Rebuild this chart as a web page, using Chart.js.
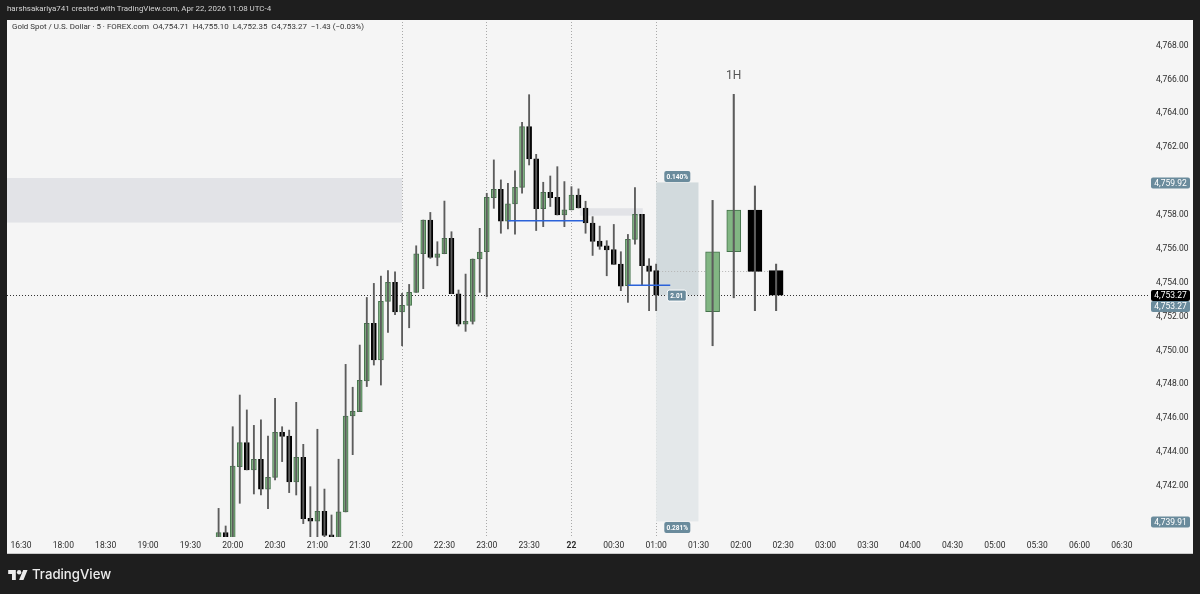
<!DOCTYPE html>
<html>
<head>
<meta charset="utf-8">
<title>XAUUSD 5m</title>
<script src="https://cdn.jsdelivr.net/npm/chart.js@4/dist/chart.umd.min.js"></script>
<style>
    html, body { margin: 0; padding: 0; width: 1200px; height: 594px; overflow: hidden; background: #1e1e1e; }
    #panel { position: absolute; left: 7px; top: 20px; width: 1186px; height: 533px; background: #f5f5f5; box-shadow: 0 1px 0 #c9c9c9; }
    #chartBox { position: absolute; left: 0; top: 0; width: 1200px; height: 594px; }
    .label { position: absolute; white-space: nowrap; font-family: Roboto, sans-serif; }
    #header { left: 7px; top: 3px; font-size: 7.95px; line-height: 12px; color: #d4d4d4; }
    #legend { left: 12px; top: 21px; font-size: 7.95px; line-height: 12px; color: #333; }
    #brand { left: 32px; top: 565px; font-family: Inter, sans-serif; font-size: 13.2px; line-height: 18px; font-weight: 500; color: #ececec; }
    #logo { position: absolute; left: 8px; top: 569px; }
</style>
</head>
<body>
<div id="panel"></div>
<div id="chartBox"><canvas id="goldChart" width="1200" height="594"></canvas></div>
<div class="label" id="header">harshsakariya741 created with TradingView.com, Apr 22, 2026 11:08 UTC-4</div>
<div class="label" id="legend">Gold Spot / U.S. Dollar · 5 · FOREX.com &nbsp;O4,754.71 &nbsp;H4,755.10 &nbsp;L4,752.35 &nbsp;C4,753.27 &nbsp;−1.43 (−0.03%)</div>
<svg id="logo" width="20" height="12" viewBox="0 2 36 22"><path fill="#ececec" d="M14 22H7V11H0V4h14v18zM28 22h-8l7.5-18h8L28 22z"/><circle fill="#ececec" cx="20" cy="8" r="4"/></svg>
<div class="label" id="brand">TradingView</div>

<script>
// 5 minute candles, first one sits on slot 28 of the time axis
const firstSlot = 28;
const opens = [4738.80, 4739.25, 4738.70, 4743.14, 4744.56, 4742.95, 4743.58, 4741.82, 4742.51, 4745.17, 4744.95, 4742.24, 4743.69, 4740.09, 4739.92, 4740.51, 4739.09, 4738.70, 4740.47, 4746.13, 4746.39, 4748.20, 4751.60, 4749.44, 4752.90, 4754.02, 4752.27, 4752.66, 4753.43, 4755.71, 4757.70, 4755.50, 4755.71, 4756.62, 4753.35, 4751.56, 4751.72, 4755.40, 4755.83, 4759.02, 4759.52, 4757.63, 4758.65, 4759.63, 4763.22, 4761.31, 4758.37, 4759.34, 4759.04, 4758.00, 4758.30, 4759.18, 4758.41, 4757.52, 4756.46, 4756.18, 4755.95, 4755.10, 4753.82, 4756.56, 4758.03, 4755.00, 4754.71];
const highs = [4740.68, 4739.64, 4745.50, 4747.37, 4746.49, 4745.58, 4745.90, 4744.95, 4747.18, 4745.50, 4745.30, 4746.94, 4744.46, 4741.96, 4745.35, 4741.82, 4740.29, 4743.58, 4749.18, 4747.83, 4750.32, 4753.13, 4753.96, 4754.39, 4754.71, 4754.65, 4753.37, 4753.90, 4756.18, 4757.70, 4758.15, 4756.42, 4758.82, 4757.01, 4753.57, 4754.51, 4755.40, 4757.21, 4759.28, 4761.25, 4760.07, 4759.87, 4760.60, 4763.47, 4765.10, 4761.58, 4759.93, 4760.30, 4760.85, 4759.97, 4759.67, 4759.54, 4758.81, 4757.90, 4757.34, 4756.48, 4757.44, 4755.83, 4756.85, 4759.61, 4758.03, 4755.42, 4755.10];
const lows = [4738.50, 4738.50, 4738.50, 4740.98, 4742.95, 4741.53, 4741.47, 4740.66, 4742.36, 4743.44, 4741.61, 4741.47, 4739.78, 4738.50, 4738.50, 4738.50, 4738.50, 4738.50, 4740.47, 4743.85, 4746.39, 4747.87, 4749.14, 4747.96, 4751.07, 4752.11, 4750.28, 4751.34, 4753.43, 4753.65, 4755.44, 4755.00, 4755.71, 4753.35, 4751.44, 4751.13, 4751.56, 4753.43, 4753.17, 4758.39, 4756.92, 4757.17, 4756.86, 4759.28, 4760.95, 4757.08, 4757.31, 4758.50, 4758.00, 4757.31, 4758.30, 4758.41, 4756.92, 4755.61, 4755.97, 4754.41, 4755.08, 4753.53, 4752.84, 4756.28, 4753.82, 4752.35, 4752.35];
const closes = [4739.25, 4738.80, 4743.18, 4744.56, 4742.95, 4743.58, 4741.82, 4742.51, 4745.17, 4744.93, 4742.24, 4743.69, 4740.07, 4739.92, 4740.51, 4739.09, 4739.00, 4740.47, 4746.13, 4746.41, 4748.24, 4751.60, 4749.44, 4752.90, 4754.02, 4752.27, 4752.66, 4753.43, 4755.71, 4757.70, 4755.50, 4755.71, 4756.62, 4753.35, 4751.56, 4751.72, 4755.40, 4755.81, 4759.04, 4759.52, 4757.63, 4758.65, 4759.63, 4763.22, 4761.31, 4758.37, 4759.34, 4759.02, 4758.00, 4758.30, 4759.18, 4758.41, 4757.53, 4756.44, 4756.14, 4755.93, 4755.08, 4753.80, 4756.56, 4758.03, 4755.00, 4754.67, 4753.27];

// the four wider 1H candles drawn to the right of the position box
const hourSlots = [98, 101, 104, 107];
const hourOpens = [4752.29, 4755.83, 4758.29, 4754.71];
const hourHighs = [4758.86, 4765.12, 4759.71, 4755.10];
const hourLows = [4750.28, 4753.11, 4752.35, 4752.35];
const hourCloses = [4755.83, 4758.29, 4754.67, 4753.27];

// axis ticks, one time label every 6 slots
const timeLabels = ['16:30', '18:00', '18:30', '19:00', '19:30', '20:00', '20:30', '21:00', '21:30', '22:00', '22:30', '23:00', '23:30', '22', '00:30', '01:00', '01:30', '02:00', '02:30', '03:00', '03:30', '04:00', '04:30', '05:00', '05:30', '06:00', '06:30'];
const priceTicks = [4742, 4744, 4746, 4748, 4750, 4752, 4754, 4756, 4758, 4762, 4764, 4766, 4768];
const gridSlots = [54, 66, 78, 90];

// drawn levels and zones
const lastPrice = 4753.27;
const targetPrice = 4759.92;
const stopPrice = 4739.91;
const midLevel = 4754.67;
const upperZone = [4760.18, 4757.55];
const smallZone = [4758.40, 4757.96];
const blueLevelA = 4757.66;
const blueLevelB = 4753.85;

const slateColor = '#6a8b9c';
const greenFill = '#82b683';
const greenEdge = '#44724b';
const wickColor = '#5c5c5c';
const axisFont = 'Roboto, sans-serif';

function formatPrice(v) {
    return v.toLocaleString('en-US', { minimumFractionDigits: 2, maximumFractionDigits: 2 });
}

function bodyColor(open, close) {
    return close >= open ? greenFill : '#000000';
}

function edgeColor(open, close) {
    return close >= open ? greenEdge : '#000000';
}

const wickData = opens.map((o, i) => ({ x: firstSlot + i, y: [lows[i], highs[i]] }));
const bodyData = opens.map((o, i) => ({ x: firstSlot + i, y: [o, closes[i]] }));
const hourWickData = hourSlots.map((s, i) => ({ x: s, y: [hourLows[i], hourHighs[i]] }));
const hourBodyData = hourSlots.map((s, i) => ({ x: s, y: [hourOpens[i], hourCloses[i]] }));

function pill(ctx, cx, cy, w, h, text, fill, outline, font) {
    ctx.beginPath();
    ctx.roundRect(cx - w / 2, cy - h / 2, w, h, 2);
    ctx.fillStyle = fill;
    ctx.fill();
    if (outline) {
        ctx.strokeStyle = '#ffffff';
        ctx.lineWidth = 1;
        ctx.stroke();
    }
    ctx.fillStyle = '#ffffff';
    ctx.font = font;
    ctx.textAlign = 'center';
    ctx.textBaseline = 'middle';
    ctx.fillText(text, cx, cy + 0.5);
}

// zones and levels that sit under the candles
const underlays = {
    id: 'underlays',
    beforeDatasetsDraw(chart) {
        const { ctx, chartArea, scales: { x, y } } = chart;
        ctx.save();

        ctx.fillStyle = '#e2e3e7';
        ctx.fillRect(chartArea.left, y.getPixelForValue(upperZone[0]), x.getPixelForValue(54) - chartArea.left, y.getPixelForValue(upperZone[1]) - y.getPixelForValue(upperZone[0]));
        ctx.fillRect(x.getPixelForValue(79.2), y.getPixelForValue(smallZone[0]), x.getPixelForValue(88.1) - x.getPixelForValue(79.2), y.getPixelForValue(smallZone[1]) - y.getPixelForValue(smallZone[0]));

        const boxLeft = x.getPixelForValue(90);
        const boxWidth = x.getPixelForValue(96) - boxLeft;
        ctx.fillStyle = '#d2dadd';
        ctx.fillRect(boxLeft, y.getPixelForValue(targetPrice), boxWidth, y.getPixelForValue(lastPrice) - y.getPixelForValue(targetPrice));
        ctx.fillStyle = '#e4e8ea';
        ctx.fillRect(boxLeft, y.getPixelForValue(lastPrice), boxWidth, y.getPixelForValue(stopPrice) - y.getPixelForValue(lastPrice));

        ctx.lineWidth = 1;
        ctx.setLineDash([1, 2]);
        ctx.strokeStyle = '#b5b5b5';
        ctx.beginPath();
        ctx.moveTo(boxLeft, Math.round(y.getPixelForValue(midLevel)) + 0.5);
        ctx.lineTo(x.getPixelForValue(107), Math.round(y.getPixelForValue(midLevel)) + 0.5);
        ctx.stroke();

        ctx.strokeStyle = '#333333';
        ctx.beginPath();
        ctx.moveTo(chartArea.left, Math.round(y.getPixelForValue(lastPrice)) + 0.5);
        ctx.lineTo(chartArea.right, Math.round(y.getPixelForValue(lastPrice)) + 0.5);
        ctx.stroke();

        ctx.restore();
    }
};

// blue levels, the tags on the position box and the price axis tags
const overlays = {
    id: 'overlays',
    afterDatasetsDraw(chart) {
        const { ctx, scales: { x, y } } = chart;
        ctx.save();

        ctx.strokeStyle = '#2b62d9';
        ctx.lineWidth = 1.4;
        ctx.beginPath();
        ctx.moveTo(x.getPixelForValue(69), y.getPixelForValue(blueLevelA));
        ctx.lineTo(x.getPixelForValue(79.7), y.getPixelForValue(blueLevelA));
        ctx.moveTo(x.getPixelForValue(86), y.getPixelForValue(blueLevelB));
        ctx.lineTo(x.getPixelForValue(92), y.getPixelForValue(blueLevelB));
        ctx.stroke();

        const tagX = x.getPixelForValue(93);
        const smallFont = '700 6.5px ' + axisFont;
        pill(ctx, tagX, y.getPixelForValue(targetPrice) - 6, 26, 11, '0.140%', slateColor, false, smallFont);
        pill(ctx, tagX, y.getPixelForValue(stopPrice) + 6, 26, 11, '0.281%', slateColor, false, smallFont);
        pill(ctx, tagX - 0.5, y.getPixelForValue(lastPrice) + 0.5, 19, 11, '2.01', slateColor, true, smallFont);

        const axisTagFont = '8.5px ' + axisFont;
        pill(ctx, 1170.5, y.getPixelForValue(targetPrice) + 0.5, 39, 11, formatPrice(targetPrice), slateColor, false, axisTagFont);
        pill(ctx, 1170.5, y.getPixelForValue(stopPrice) + 0.5, 39, 11, formatPrice(stopPrice), slateColor, false, axisTagFont);
        pill(ctx, 1170.5, y.getPixelForValue(lastPrice) + 0.5, 39, 11, formatPrice(lastPrice), '#000000', false, axisTagFont);
        pill(ctx, 1170.5, y.getPixelForValue(lastPrice) + 11.5, 39, 11, formatPrice(lastPrice), slateColor, false, axisTagFont);

        ctx.fillStyle = '#555555';
        ctx.font = '12px ' + axisFont;
        ctx.textAlign = 'center';
        ctx.textBaseline = 'middle';
        ctx.fillText('1H', x.getPixelForValue(101), y.getPixelForValue(4766.2));

        ctx.restore();
    }
};

new Chart(document.getElementById('goldChart').getContext('2d'), {
    type: 'bar',
    plugins: [underlays, overlays],
    data: {
        datasets: [
            { data: wickData, barThickness: 1.2, backgroundColor: wickColor, borderWidth: 0 },
            { data: hourWickData, barThickness: 1.4, backgroundColor: wickColor, borderWidth: 0 },
            {
                data: bodyData,
                barThickness: 5,
                minBarLength: 2,
                borderWidth: 1,
                borderSkipped: false,
                backgroundColor: ctx => bodyColor(opens[ctx.dataIndex], closes[ctx.dataIndex]),
                borderColor: ctx => edgeColor(opens[ctx.dataIndex], closes[ctx.dataIndex])
            },
            {
                data: hourBodyData,
                barThickness: 14,
                borderWidth: 1,
                borderSkipped: false,
                backgroundColor: ctx => bodyColor(hourOpens[ctx.dataIndex], hourCloses[ctx.dataIndex]),
                borderColor: ctx => edgeColor(hourOpens[ctx.dataIndex], hourCloses[ctx.dataIndex])
            }
        ]
    },
    options: {
        responsive: false,
        animation: false,
        grouped: false,
        layout: { padding: { left: 7, top: 22, right: 7, bottom: 40 } },
        plugins: { legend: { display: false }, tooltip: { enabled: false }, title: { display: false } },
        scales: {
            x: {
                type: 'linear',
                offset: false,
                min: -1.984,
                max: 159.84,
                afterFit(scale) { scale.height = 17; },
                afterBuildTicks(scale) { scale.ticks = timeLabels.map((t, i) => ({ value: i * 6 })); },
                border: { display: false, dash: [1, 2] },
                grid: {
                    offset: false,
                    drawTicks: false,
                    lineWidth: 1,
                    color: ctx => ctx.tick && gridSlots.includes(ctx.tick.value) ? '#a9a9a9' : 'rgba(0,0,0,0)'
                },
                ticks: {
                    padding: 4,
                    maxRotation: 0,
                    autoSkip: false,
                    color: '#2c2c2c',
                    font: ctx => ({ family: axisFont, size: 8.5, weight: ctx.tick && ctx.tick.value === 78 ? '700' : '400' }),
                    callback: value => timeLabels[value / 6]
                }
            },
            y: {
                position: 'right',
                min: 4738.99,
                max: 4769.39,
                afterFit(scale) { scale.width = 44; },
                afterBuildTicks(scale) { scale.ticks = priceTicks.map(v => ({ value: v })); },
                border: { display: false },
                grid: { display: false, drawTicks: false },
                ticks: {
                    padding: 7,
                    color: '#2c2c2c',
                    font: { family: axisFont, size: 8.5 },
                    callback: value => formatPrice(value)
                }
            }
        }
    }
});
</script>
</body>
</html>
